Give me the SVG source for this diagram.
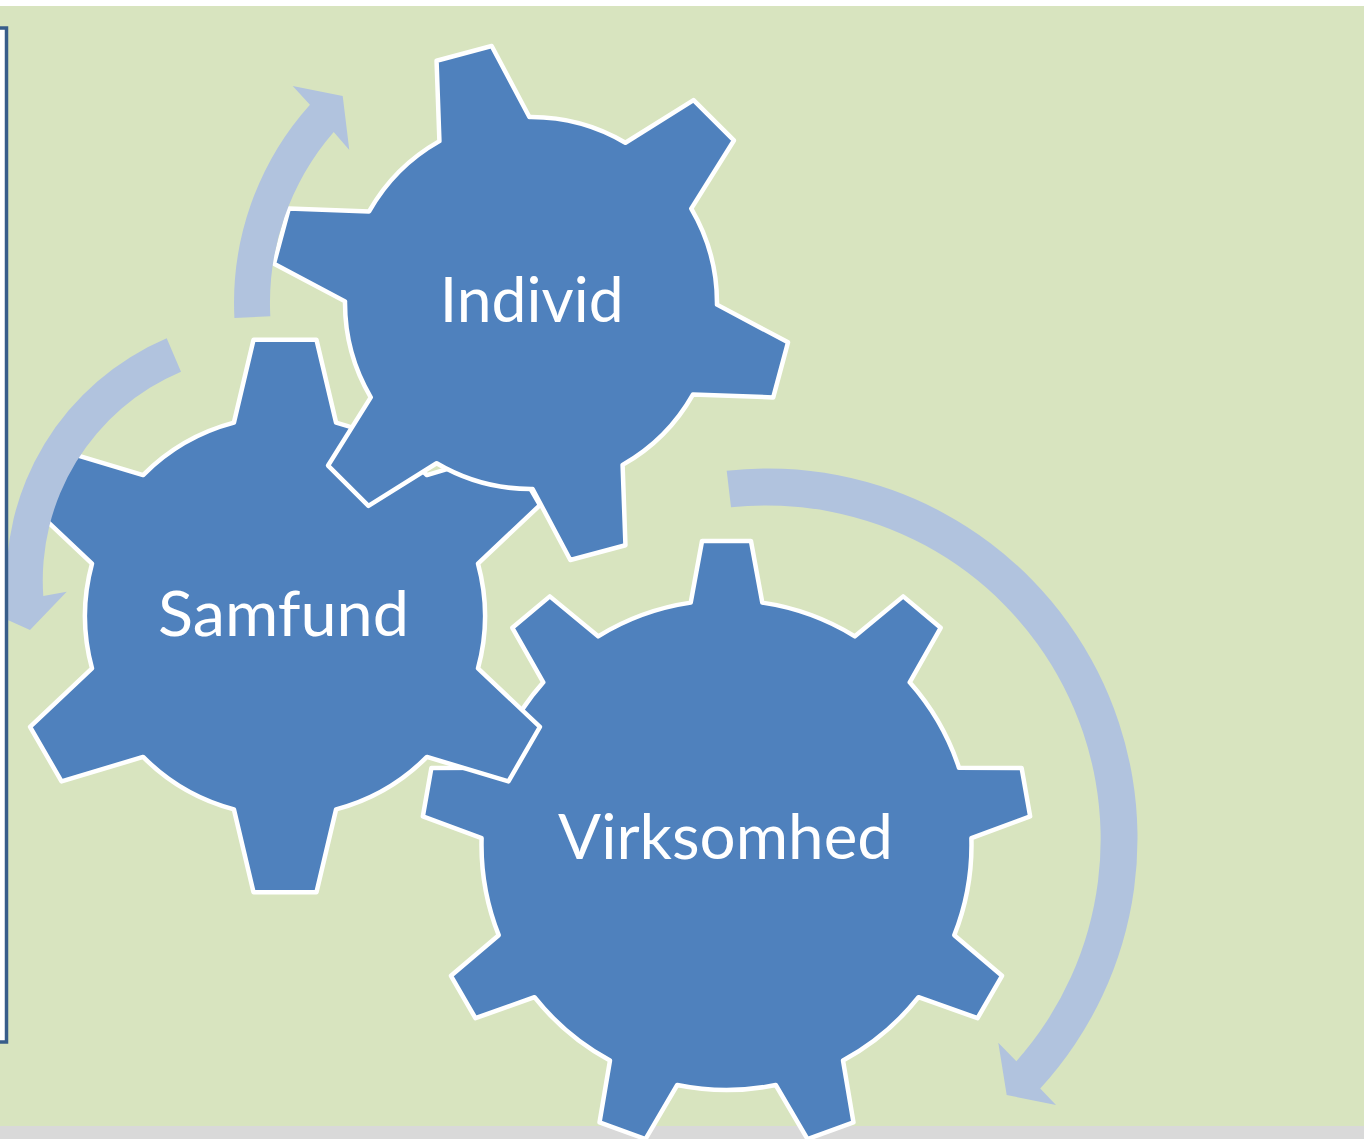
<svg xmlns="http://www.w3.org/2000/svg" width="1364" height="1139" viewBox="0 0 1364 1139">
  <style>
    .gear { fill: #4f81bd; stroke: #ffffff; stroke-width: 4.5; stroke-linejoin: round; }
    .lbl { fill: #ffffff; font-family: Lato, "Open Sans", "Liberation Sans", sans-serif; font-size: 62px; text-anchor: middle; }
    .arrow { fill: #b1c3de; stroke: none; }
  </style>
  <rect x="0" y="0" width="1364" height="1139" fill="#ffffff"/>
  <rect x="0" y="6" width="1364" height="1120" fill="#d8e4bf"/>
  <rect x="0" y="1126" width="1364" height="13" fill="#d9d9d9"/>

  <g id="virksomhed">
    <path class="gear" d="M 690.71 602.63 L 702.04 540.98 L 750.96 540.98 L 762.29 602.63 A 245 245 0 0 1 854.88 636.33 L 903.18 596.39 L 940.66 627.83 L 909.71 682.34 A 245 245 0 0 1 958.98 767.67 L 1021.65 768.12 L 1030.15 816.30 L 971.40 838.16 A 245 245 0 0 1 954.30 935.19 L 1002.02 975.83 L 977.56 1018.19 L 918.50 997.18 A 245 245 0 0 1 843.03 1060.51 L 853.47 1122.32 L 807.50 1139.05 L 775.76 1085.00 A 245 245 0 0 1 677.24 1085.00 L 645.50 1139.05 L 599.53 1122.32 L 609.97 1060.51 A 245 245 0 0 1 534.50 997.18 L 475.44 1018.19 L 450.98 975.83 L 498.70 935.19 A 245 245 0 0 1 481.60 838.16 L 422.85 816.30 L 431.35 768.12 L 494.02 767.67 A 245 245 0 0 1 543.29 682.34 L 512.34 627.83 L 549.82 596.39 L 598.12 636.33 A 245 245 0 0 1 690.71 602.63 Z"/>
    <text class="lbl" x="725.5" y="859" textLength="335" lengthAdjust="spacingAndGlyphs">Virksomhed</text>
  </g>

  <g id="samfund">
    <path class="gear" d="M 233.91 422.64 L 253.53 339.79 L 316.47 339.79 L 336.09 422.64 A 200 200 0 0 1 426.92 475.07 L 508.47 450.64 L 539.94 505.15 L 478.00 563.56 A 200 200 0 0 1 478.00 668.44 L 539.94 726.85 L 508.47 781.36 L 426.92 756.93 A 200 200 0 0 1 336.09 809.36 L 316.47 892.21 L 253.53 892.21 L 233.91 809.36 A 200 200 0 0 1 143.08 756.93 L 61.53 781.36 L 30.06 726.85 L 92.00 668.44 A 200 200 0 0 1 92.00 563.56 L 30.06 505.15 L 61.53 450.64 L 143.08 475.07 A 200 200 0 0 1 233.91 422.64 Z"/>
    <text class="lbl" x="283.5" y="636" textLength="251" lengthAdjust="spacingAndGlyphs">Samfund</text>
  </g>

  <g id="individ">
    <path class="gear" d="M 439.41 141.11 L 436.55 60.76 L 491.67 45.99 L 529.38 117.01 A 186 186 0 0 1 625.40 142.74 L 693.56 100.09 L 733.91 140.44 L 691.26 208.60 A 186 186 0 0 1 716.99 304.62 L 788.01 342.33 L 773.24 397.45 L 692.89 394.59 A 186 186 0 0 1 622.59 464.89 L 625.45 545.24 L 570.33 560.01 L 532.62 488.99 A 186 186 0 0 1 436.60 463.26 L 368.44 505.91 L 328.09 465.56 L 370.74 397.40 A 186 186 0 0 1 345.01 301.38 L 273.99 263.67 L 288.76 208.55 L 369.11 211.41 A 186 186 0 0 1 439.41 141.11 Z"/>
    <text class="lbl" x="531.7" y="322" textLength="184" lengthAdjust="spacingAndGlyphs">Individ</text>
  </g>

  <g id="connectors">
    <path class="arrow" d="M 270.3 316.2 L 234.4 318 A 297 297 0 0 1 309.94 104.65 L 292.7 86 L 342.7 96 L 349.3 150 L 333.72 132.11 A 261 261 0 0 0 270.3 316.2 Z"/>
    <path class="arrow" d="M 181 371.7 L 166.7 338.3 A 262.7 262.7 0 0 0 7.1 600.6 L -16.5 609 L 30 630 L 66.7 591.7 L 43.3 596 A 226.5 226.5 0 0 1 181 371.7 Z"/>
    <path class="arrow" d="M 731 507.3 L 726.7 470.7 A 370 370 0 0 1 1040.23 1088.49 L 1056 1105 L 1006.7 1095 L 998.3 1042.7 L 1016.38 1061.19 A 334 334 0 0 0 731 507.3 Z"/>
  </g>

  <rect id="frame" x="-20" y="28" width="26.5" height="1014" fill="#ffffff" stroke="#385d8a" stroke-width="3.5"/>
</svg>
